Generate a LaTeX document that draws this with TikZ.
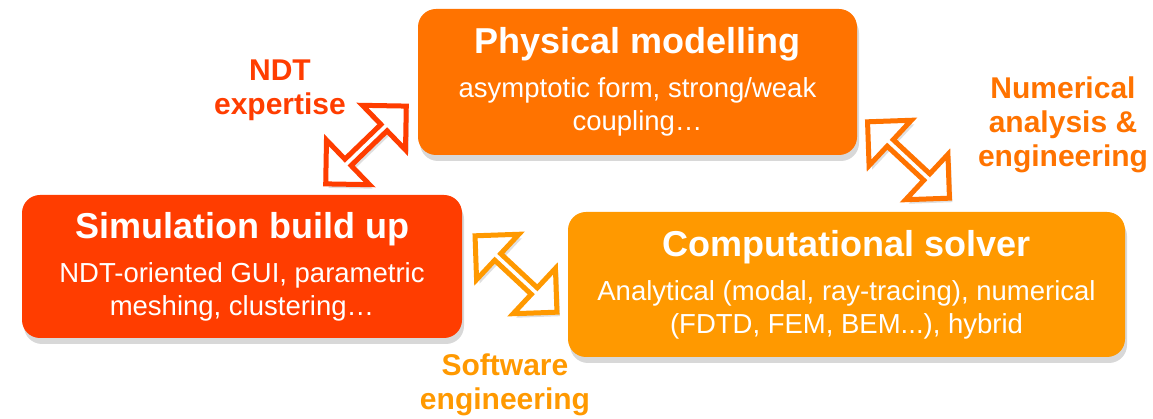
\documentclass[tikz,border=0pt]{standalone}
\usepackage{fontspec}
\setmainfont{Liberation Sans}
\usetikzlibrary{shapes.arrows,shadows}
\definecolor{simred}{RGB}{255,61,0}
\definecolor{phyorange}{RGB}{255,115,0}
\definecolor{compamber}{RGB}{255,153,0}
\tikzset{
  box/.style={rounded corners=18pt, align=center, text=white, inner sep=0pt,
    font=\fontsize{27.5}{33}\selectfont,
    drop shadow={opacity=0.3, shadow xshift=2pt, shadow yshift=-6pt}},
  dblarrow/.style={double arrow, double arrow tip angle=90,
    double arrow head extend=15pt, minimum height=112pt, minimum width=62pt,
    inner sep=0pt, line width=5pt, fill=white, draw=#1,
    drop shadow={opacity=0.25, shadow xshift=3pt, shadow yshift=-4pt}},
  lbl/.style={font=\fontsize{30}{34}\selectfont\bfseries, align=center, text=#1, inner sep=0pt}
}
\begin{document}
\begin{tikzpicture}[x=1pt,y=1pt]
\useasboundingbox[fill=white] (0,0) rectangle (1153,419);
% boxes
\node[box, fill=phyorange, minimum width=439pt, minimum height=146pt] (phys) at (637.5,337)
  {{\fontsize{36}{36}\selectfont\bfseries Physical modelling}\\[11pt]asymptotic form, strong/weak\\coupling…};
\node[box, fill=simred, minimum width=440pt, minimum height=143pt] (sim) at (242,152.5)
  {{\fontsize{36}{36}\selectfont\bfseries Simulation build up}\\[11pt]NDT-oriented GUI, parametric\\meshing, clustering…};
\node[box, fill=compamber, minimum width=557pt, minimum height=145pt] (comp) at (846.5,134.5)
  {{\fontsize{36}{36}\selectfont\bfseries Computational solver}\\[11pt]Analytical (modal, ray-tracing), numerical\\(FDTD, FEM, BEM...), hybrid};
% arrows
\node[dblarrow=simred, rotate=44] (a1) at (366,274) {};
\node[dblarrow=phyorange, rotate=-43] (a2) at (908.5,259) {};
\node[dblarrow=compamber, rotate=-43] (a3) at (516,145) {};
% labels (base = baseline of last line)
\node[lbl=simred, anchor=base] (l1) at (280,304) {NDT\\expertise};
\node[lbl=phyorange, anchor=base] (l2) at (1063,252) {Numerical\\analysis \&\\engineering};
\node[lbl=compamber, anchor=base] (l3) at (505,9) {Software\\engineering};
\end{tikzpicture}
\end{document}
